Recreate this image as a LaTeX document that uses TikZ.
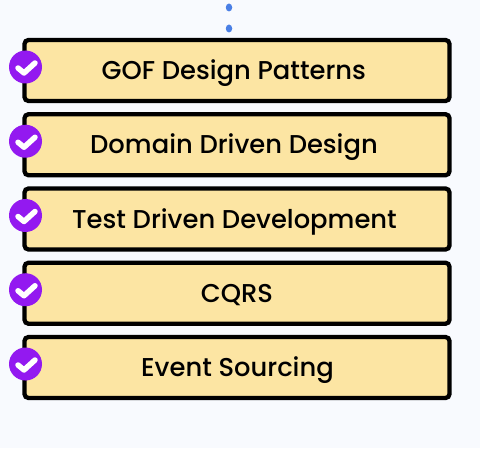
\documentclass[tikz,border=0pt]{standalone}
\usepackage{fontspec}
\setmainfont{Poppins Medium}
\usetikzlibrary{positioning,shapes.geometric}
\definecolor{topicFill}{RGB}{252,229,163}
\definecolor{badgePurple}{RGB}{147,25,240}
\definecolor{dotBlue}{RGB}{74,127,229}
\definecolor{pageBack}{RGB}{248,250,254}
\tikzset{
  topicbox/.style={
    draw=black,
    line width=4.3pt,
    rounded corners=4pt,
    fill=topicFill,
    outer sep=0pt,
    minimum width=425pt,
    minimum height=61pt,
    text height=19pt,
    text depth=0pt,
    execute at begin node={\kern#1},
    font=\fontsize{25.8}{30}\selectfont
  },
  topicbox/.default=0pt,
  badge/.style={
    circle,
    fill=badgePurple,
    inner sep=0pt,
    minimum size=33pt,
    path picture={
      \draw[white, line width=5.5pt, line cap=round, line join=round]
        ([shift={(-7.5pt,-1pt)}]path picture bounding box.center)
        -- ([shift={(-1.5pt,-6pt)}]path picture bounding box.center)
        -- ([shift={(9.5pt,4pt)}]path picture bounding box.center);
    }
  },
  dotmark/.style={
    ellipse,
    fill=dotBlue,
    inner sep=0pt,
    minimum width=6.5pt,
    minimum height=8pt
  }
}
\begin{document}
\begin{tikzpicture}[x=1pt,y=1pt,node distance=13.25pt]
  \fill[pageBack] (0,0) rectangle (480,448);
  \useasboundingbox (0,0) rectangle (480,448);

  \node[dotmark] (dotone) at (229,440.5) {};
  \node[dotmark] (dottwo) at (229,419.5) {};

  \node[topicbox=-6.4pt] (gof) at (237,377.5) {GOF Design Patterns};
  \node[topicbox=-6pt, text height=18pt, below=of gof] (ddd) {Domain Driven Design};
  \node[topicbox=-5pt, below=of ddd] (tdd) {Test Driven Development};
  \node[topicbox=0pt, below=of tdd] (cqrs) {CQRS};
  \node[topicbox=1pt, below=of cqrs] (evsrc) {Event Sourcing};

  \node[badge] (gofcheck) at ([xshift=1pt,yshift=3.5pt]gof.west) {};
  \node[badge] (dddcheck) at ([xshift=1pt,yshift=3.5pt]ddd.west) {};
  \node[badge] (tddcheck) at ([xshift=1pt,yshift=3.5pt]tdd.west) {};
  \node[badge] (cqrscheck) at ([xshift=1pt,yshift=3.5pt]cqrs.west) {};
  \node[badge] (evsrccheck) at ([xshift=1pt,yshift=3.5pt]evsrc.west) {};
\end{tikzpicture}
\end{document}
